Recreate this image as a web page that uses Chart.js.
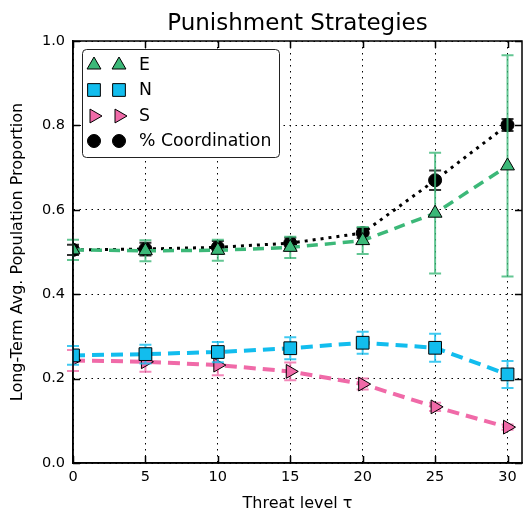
<!DOCTYPE html>
<html>
<head>
<meta charset="utf-8">
<style>
  html, body { margin: 0; padding: 0; background: #fff; }
  #wrap { width: 523px; height: 513px; }
</style>
</head>
<body>
<div id="wrap"><canvas id="strategyChart" width="523" height="513"></canvas></div>
<script src="https://cdn.jsdelivr.net/npm/chart.js"></script>
<script>
// threat levels
const tau = [0, 5, 10, 15, 20, 25, 30];

// means and error sizes
const eMean = [0.505, 0.503, 0.504, 0.511, 0.527, 0.592, 0.704];
const eErr  = [0.024, 0.025, 0.025, 0.025, 0.032, 0.143, 0.262];
const nMean = [0.255, 0.258, 0.263, 0.272, 0.285, 0.273, 0.210];
const nErr  = [0.022, 0.022, 0.024, 0.026, 0.026, 0.033, 0.032];
const sMean = [0.243, 0.240, 0.232, 0.217, 0.187, 0.133, 0.085];
const sErr  = [0.025, 0.024, 0.024, 0.021, 0.013, 0.010, 0.006];
const cMean = [0.505, 0.507, 0.511, 0.521, 0.545, 0.670, 0.801];
const cErr  = [0.012, 0.015, 0.015, 0.013, 0.012, 0.023, 0.014];

const xTicks = [0, 5, 10, 15, 20, 25, 30];
const yTicks = [0.0, 0.2, 0.4, 0.6, 0.8, 1.0];

const GREEN = '#3cb878';
const BLUE = '#12bdee';
const PINK = '#f06aa8';
const FONT = "'DejaVu Sans', sans-serif";

function pts(ys) {
    return tau.map((t, i) => ({ x: t, y: ys[i] }));
}

const errs = [eErr, nErr, sErr, cErr];

// vertical error bars, drawn just before each dataset
const errorBars = {
    id: 'errorBars',
    beforeDatasetDraw(chart, args) {
        const ds = chart.data.datasets[args.index];
        const err = errs[args.index];
        const xs = chart.scales.x, ys = chart.scales.y;
        const ctx = chart.ctx;
        ctx.save();
        ctx.strokeStyle = ds.errColor;
        ctx.globalAlpha = 0.8;
        ctx.lineWidth = 2;
        ds.data.forEach((p, i) => {
            const px = xs.getPixelForValue(p.x);
            const top = ys.getPixelForValue(p.y + err[i]);
            const bot = ys.getPixelForValue(p.y - err[i]);
            ctx.beginPath();
            ctx.moveTo(px, top); ctx.lineTo(px, bot);
            ctx.moveTo(px - 6, top); ctx.lineTo(px + 6, top);
            ctx.moveTo(px - 6, bot); ctx.lineTo(px + 6, bot);
            ctx.stroke();
        });
        ctx.restore();
    }
};

// frame, inward ticks, title, legend
const decor = {
    id: 'decor',
    afterDraw(chart) {
        const ctx = chart.ctx;
        const a = chart.chartArea;
        const xs = chart.scales.x, ys = chart.scales.y;
        ctx.save();
        ctx.strokeStyle = '#000';
        ctx.lineWidth = 1.5;
        ctx.strokeRect(a.left, a.top, a.right - a.left, a.bottom - a.top);
        ctx.beginPath();
        xTicks.forEach(t => {
            const px = Math.round(xs.getPixelForValue(t)) + 0.5;
            ctx.moveTo(px, a.bottom); ctx.lineTo(px, a.bottom - 7);
            ctx.moveTo(px, a.top); ctx.lineTo(px, a.top + 7);
        });
        yTicks.forEach(t => {
            const py = Math.round(ys.getPixelForValue(t)) + 0.5;
            ctx.moveTo(a.left, py); ctx.lineTo(a.left + 7, py);
            ctx.moveTo(a.right, py); ctx.lineTo(a.right - 7, py);
        });
        ctx.stroke();

        // title
        ctx.fillStyle = '#000';
        ctx.font = '23px ' + FONT;
        ctx.textAlign = 'center';
        ctx.textBaseline = 'alphabetic';
        ctx.fillText('Punishment Strategies', (a.left + a.right) / 2, 30);

        // legend box
        const lx = 82, ly = 49.5, lw = 197, lh = 108;
        ctx.beginPath();
        ctx.roundRect(lx + 0.5, ly, lw, lh, 4);
        ctx.fillStyle = '#fff';
        ctx.fill();
        ctx.strokeStyle = '#222';
        ctx.lineWidth = 1;
        ctx.stroke();
        ctx.font = '17.3px ' + FONT;
        ctx.textAlign = 'left';
        ctx.textBaseline = 'middle';
        const rowY = [65, 90, 116, 141];
        chart.data.datasets.forEach((ds, i) => {
            [94, 119].forEach(mx => {
                ctx.save();
                ctx.fillStyle = ds.pointBackgroundColor;
                ctx.strokeStyle = '#000';
                ctx.lineWidth = 1;
                Chart.helpers.drawPoint(ctx, {
                    pointStyle: ds.pointStyle,
                    radius: ds.pointRadius,
                    rotation: ds.pointRotation || 0,
                    borderWidth: 1
                }, mx, rowY[i]);
                ctx.restore();
            });
            ctx.fillStyle = '#000';
            ctx.fillText(ds.label, 139, rowY[i] + 1);
        });
        ctx.restore();
    }
};

new Chart(document.getElementById('strategyChart'), {
    type: 'line',
    data: {
        datasets: [{
            label: 'E',
            data: pts(eMean),
            borderColor: GREEN,
            errColor: GREEN,
            borderWidth: 3.5,
            borderDash: [11, 7],
            pointStyle: 'triangle',
            pointRadius: 8,
            pointBackgroundColor: GREEN,
            pointBorderColor: '#000',
            pointBorderWidth: 1
        }, {
            label: 'N',
            data: pts(nMean),
            borderColor: BLUE,
            errColor: BLUE,
            borderWidth: 4,
            borderDash: [12, 7],
            pointStyle: 'rect',
            pointRadius: 9,
            pointBackgroundColor: BLUE,
            pointBorderColor: '#000',
            pointBorderWidth: 1
        }, {
            label: 'S',
            data: pts(sMean),
            borderColor: PINK,
            errColor: PINK,
            borderWidth: 4,
            borderDash: [12, 7],
            pointStyle: 'triangle',
            pointRotation: 90,
            pointRadius: 8,
            pointBackgroundColor: PINK,
            pointBorderColor: '#000',
            pointBorderWidth: 1
        }, {
            label: '% Coordination',
            data: pts(cMean),
            borderColor: '#000',
            errColor: '#000',
            borderWidth: 3,
            borderDash: [3, 5],
            pointStyle: 'circle',
            pointRadius: 6.5,
            pointBackgroundColor: '#000',
            pointBorderColor: '#000',
            pointBorderWidth: 1
        }]
    },
    options: {
        responsive: false,
        animation: false,
        layout: { autoPadding: false, padding: { top: 41, right: 1, left: 0, bottom: 0 } },
        plugins: { legend: { display: false }, tooltip: { enabled: false } },
        scales: {
            x: {
                type: 'linear',
                min: 0, max: 31,
                afterFit(s) { s.height = 50; s.paddingLeft = 0; s.paddingRight = 0; },
                afterBuildTicks(s) { s.ticks = xTicks.map(v => ({ value: v })); },
                ticks: {
                    color: '#000',
                    padding: 6,
                    font: { family: FONT, size: 14.5 },
                    callback: v => String(v)
                },
                grid: { color: '#000', lineWidth: 1, drawTicks: false },
                border: { color: '#000', width: 1.5, dash: [1.5, 4.5] },
                title: {
                    display: true,
                    text: 'Threat level τ',
                    color: '#000',
                    font: { family: FONT, size: 16 },
                    padding: { top: 1, bottom: 0 }
                }
            },
            y: {
                min: 0, max: 1,
                afterFit(s) { s.width = 73; s.paddingTop = 0; s.paddingBottom = 0; },
                afterBuildTicks(s) { s.ticks = yTicks.map(v => ({ value: v })); },
                ticks: {
                    color: '#000',
                    padding: 8,
                    font: { family: FONT, size: 14.5 },
                    callback: v => v.toFixed(1)
                },
                grid: { color: '#000', lineWidth: 1, drawTicks: false },
                border: { color: '#000', width: 1.5, dash: [1.5, 4.5] },
                title: {
                    display: true,
                    text: 'Long-Term Avg. Population Proportion',
                    color: '#000',
                    font: { family: FONT, size: 16 },
                    padding: { top: 8, bottom: 0 }
                }
            }
        }
    },
    plugins: [errorBars, decor]
});
</script>
</body>
</html>
